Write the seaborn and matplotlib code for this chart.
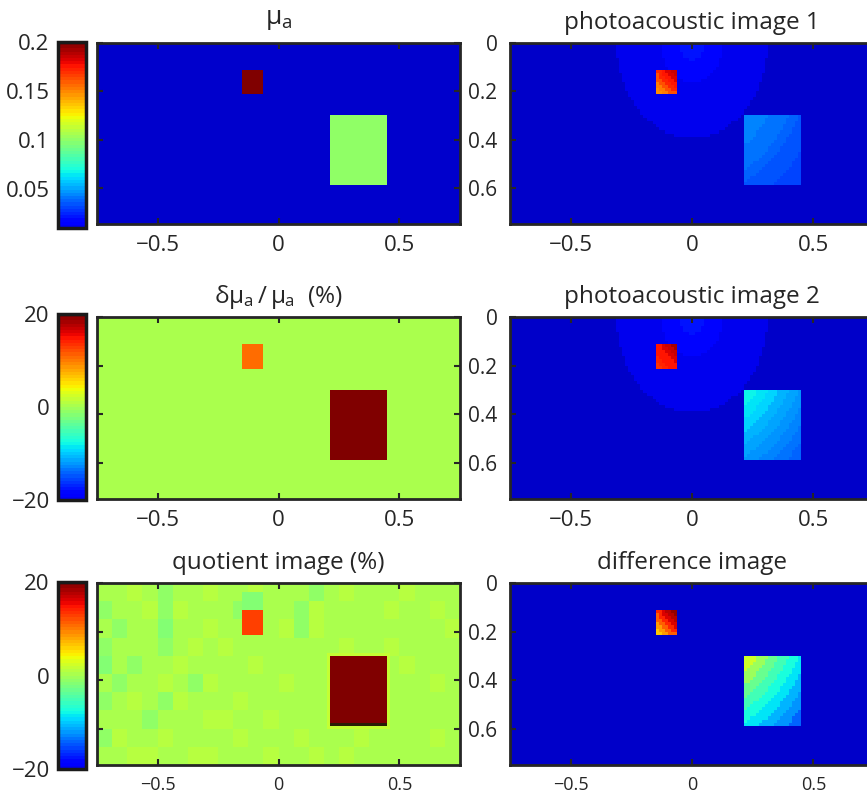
import numpy as np
import matplotlib
matplotlib.use("Agg")
import matplotlib.pyplot as plt
import seaborn as sns
from matplotlib.colors import ListedColormap


# reconstruction grid, same units as the axes
cell = 0.0125
x_range = (-0.75, 0.75)
y_range = (0.0, 0.75)

x_ticks = [-0.5, 0, 0.5]
x_tick_labels = ["\u22120.5", "0", "0.5"]
y_ticks = [0, 0.2, 0.4, 0.6]
y_tick_labels = ["0", "0.2", "0.4", "0.6"]

# the two inclusions (edges)
small_x = (-0.15, -0.0625)
small_y = (0.1125, 0.2125)
big_x = (0.2125, 0.45)
big_y = (0.30, 0.5875)

# absorption coefficient
mua_background = 0.005
mua_small = 0.2
mua_big = 0.1
mua_ticks = [0.05, 0.1, 0.15, 0.2]
mua_tick_labels = ["0.05", "0.1", "0.15", "0.2"]

# relative change of the absorption (%)
dmua_background = 0.0
dmua_small = 11.0
dmua_big = 20.0
pct_ticks = [-20, 0, 20]
pct_tick_labels = ["\u221220", "0", "20"]

quot_small = 12.5
quot_small_above = -2.0
quot_big = 19.8
quot_big_bottom = 25.0
quot_halo = 1.5
quot_step = 0.75
quot_noise = [
    "556545565565554565556555",
    "455646555465546555565565",
    "545535565555646555555556",
    "455545656555555565565555",
    "354556555565555555556555",
    "545565465555655565555565",
    "456546555655555555655555",
    "555455566556555555555555",
    "465565555655565556555565",
    "556655665556556565555555",
]

# photoacoustic images, as fraction of the jet scale, by distance from the source
shell_edges = [0.055, 0.13, 0.31]
pa1_shells = [0.145, 0.13, 0.095, 0.066]
pa2_shells = [0.145, 0.13, 0.095, 0.066]
diff_shells = [0.066, 0.066, 0.066, 0.066]

small_edges = [0.13, 0.145, 0.16, 0.175, 0.19, 0.205]
pa1_small = [0.93, 0.91, 0.89, 0.86, 0.82, 0.78, 0.75]
pa2_small = [0.96, 0.93, 0.91, 0.89, 0.88, 0.86, 0.85]
diff_small = [0.98, 0.95, 0.91, 0.86, 0.80, 0.74, 0.70]

big_edges = [0.36, 0.395, 0.43, 0.465, 0.50, 0.535, 0.57, 0.605]
pa1_big = [0.265, 0.255, 0.245, 0.235, 0.225, 0.215, 0.205, 0.195, 0.19]
pa2_big = [0.37, 0.35, 0.33, 0.31, 0.29, 0.27, 0.255, 0.24, 0.225]
diff_big = [0.60, 0.54, 0.48, 0.43, 0.39, 0.35, 0.31, 0.27, 0.23]

W, H = 867, 798
TEXT = "#262626"


def main():
    plt.rcParams["font.family"] = ["Open Sans", "DejaVu Sans"]
    plt.rcParams["mathtext.fontset"] = "custom"
    plt.rcParams["mathtext.rm"] = "Open Sans"
    plt.rcParams["mathtext.it"] = "Open Sans"
    plt.rcParams["text.color"] = TEXT

    grid = make_grid()
    images = make_images(grid)

    jet64 = plt.get_cmap("jet", 64)
    jet_cut = ListedColormap(plt.get_cmap("jet")(np.linspace(0.1, 1.0, 58)))
    jet_cut.set_under("#0000cc")
    jet_cut.set_over("#2a1e05")

    fig = plt.figure(figsize=(W / 100, H / 100), dpi=100)

    rows = [(43, 224), (317, 499), (583, 765)]
    cbar_rows = [(42, 228), (314, 500), (582, 769)]
    left_titles = [r"$\mu_a$", r"$\delta\mu_a\,/\,\mu_a$  (%)", "quotient image (%)"]
    right_titles = ["photoacoustic image 1", "photoacoustic image 2", "difference image"]
    left_imgs = [images["mua"], images["dmua"], images["quot"]]
    right_imgs = [images["pa1"], images["pa2"], images["diff"]]
    limits = [(0.01, 0.2), (-20, 20), (-20, 20)]
    cticks = [(mua_ticks, mua_tick_labels), (pct_ticks, pct_tick_labels), (pct_ticks, pct_tick_labels)]

    for i in range(3):
        top, bottom = rows[i]
        ax = fig.add_axes(box(97, 460, top, bottom))
        cax = fig.add_axes(box(58, 86, cbar_rows[i][0], cbar_rows[i][1]))
        sns.heatmap(left_imgs[i], ax=ax, cmap=jet_cut, vmin=limits[i][0], vmax=limits[i][1],
                    cbar=True, cbar_ax=cax, xticklabels=False, yticklabels=False)
        style_axes(ax, left=True, small_x=(i == 2))
        if i == 0:
            ax.set_title(left_titles[i], fontsize=19, pad=14)
        else:
            ax.set_title(left_titles[i], fontsize=17.5, pad=10)

        cb = ax.collections[0].colorbar
        cb.set_ticks(cticks[i][0])
        cb.set_ticklabels(cticks[i][1])
        cb.outline.set_visible(True)
        cb.outline.set_linewidth(2.5)
        cb.outline.set_edgecolor("#1a1a1a")
        cax.yaxis.set_ticks_position("left")
        cax.yaxis.set_label_position("left")
        cax.tick_params(length=0, labelsize=16, pad=6, labelcolor=TEXT)

        ax2 = fig.add_axes(box(510, 874, top, bottom))
        sns.heatmap(right_imgs[i], ax=ax2, cmap=jet64, vmin=0, vmax=1, cbar=False,
                    xticklabels=False, yticklabels=False)
        style_axes(ax2, left=False, small_x=(i == 2))
        ax2.set_title(right_titles[i], fontsize=17.5, pad=10)

    fig.savefig("out.png", dpi=100)


def box(x0, x1, y0, y1):
    return [x0 / W, 1 - y1 / H, (x1 - x0) / W, (y1 - y0) / H]


def make_grid():
    nx = int(round((x_range[1] - x_range[0]) / cell))
    ny = int(round((y_range[1] - y_range[0]) / cell))
    xc = x_range[0] + cell * (np.arange(nx) + 0.5)
    yc = y_range[0] + cell * (np.arange(ny) + 0.5)
    X, Y = np.meshgrid(xc, yc)
    grid = {
        "X": X,
        "Y": Y,
        "small": (X > small_x[0]) & (X < small_x[1]) & (Y > small_y[0]) & (Y < small_y[1]),
        "big": (X > big_x[0]) & (X < big_x[1]) & (Y > big_y[0]) & (Y < big_y[1]),
        # distance from the light source, isolines are a bit stretched in depth
        "rho": np.sqrt(X ** 2 + (Y / 1.27) ** 2),
    }
    return grid


def pa_image(grid, shells, small_vals, big_vals):
    rho = grid["rho"]
    img = np.take(shells, np.digitize(rho, shell_edges))
    img = np.where(grid["small"], np.take(small_vals, np.digitize(rho, small_edges)), img)
    img = np.where(grid["big"], np.take(big_vals, np.digitize(rho, big_edges)), img)
    return img


def make_images(grid):
    X, Y = grid["X"], grid["Y"]
    small, big = grid["small"], grid["big"]

    mua = np.full(X.shape, mua_background)
    mua[small] = mua_small
    mua[big] = mua_big

    dmua = np.full(X.shape, dmua_background)
    dmua[small] = dmua_small
    dmua[big] = dmua_big

    noise = np.array([[int(c) for c in row] for row in quot_noise], dtype=float)
    by = X.shape[0] // noise.shape[0]
    bx = X.shape[1] // noise.shape[1]
    quot = (np.kron(noise, np.ones((by, bx))) - 5) * quot_step
    near_big = (X > big_x[0] - cell) & (X < big_x[1] + cell) & (Y > big_y[0] - cell) & (Y < big_y[1] + cell)
    quot[near_big & ~big] = quot_halo
    above_small = (X > small_x[0]) & (X < small_x[1]) & (Y > small_y[0] - 6 * cell) & (Y < small_y[0])
    quot[above_small] = quot_small_above
    quot[small] = quot_small
    quot[big] = quot_big
    quot[big & (Y > big_y[1] - cell)] = quot_big_bottom

    images = {
        "mua": mua,
        "dmua": dmua,
        "quot": quot,
        "pa1": pa_image(grid, pa1_shells, pa1_small, pa1_big),
        "pa2": pa_image(grid, pa2_shells, pa2_small, pa2_big),
        "diff": pa_image(grid, diff_shells, diff_small, diff_big),
    }
    return images


def style_axes(ax, left, small_x):
    ax.set_xticks([(v - x_range[0]) / cell for v in x_ticks])
    ax.set_xticklabels(x_tick_labels)
    ax.set_yticks([(v - y_range[0]) / cell for v in y_ticks])
    if left:
        ax.set_yticklabels([""] * len(y_ticks))
    else:
        ax.set_yticklabels(y_tick_labels)
    for s in ax.spines.values():
        s.set_visible(True)
        s.set_linewidth(2)
        s.set_color(TEXT)
    ax.tick_params(direction="in", length=4, width=1.5, color=TEXT, top=True, right=True,
                   labelcolor=TEXT, labelsize=15)
    ax.tick_params(axis="x", pad=8, labelsize=13 if small_x else 16)
    ax.tick_params(axis="y", pad=9, labelrotation=0)


if __name__ == "__main__":
    main()
